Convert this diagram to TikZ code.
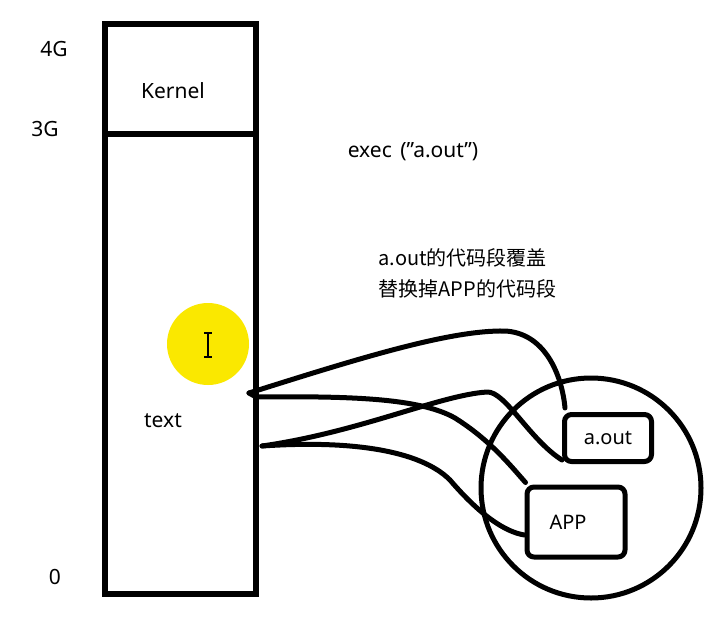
\documentclass[tikz,border=0pt]{standalone}
\usepackage{fontspec}
\setmainfont{Noto Sans}
\newfontfamily\cjk{Noto Sans CJK SC}
\usepackage{tikz}
\usetikzlibrary{calc}
\definecolor{hilite}{RGB}{250,232,0}

\begin{document}
\begin{tikzpicture}[x=1pt,y=-1pt,
  lbl/.style={font=\fontsize{21}{24}\selectfont},
  cjklbl/.style={font=\cjk\fontsize{20}{24}\selectfont},
  thick line/.style={line width=5pt,line cap=round,line join=round},
  procbox/.style={thick line,draw,rounded corners=7pt,inner sep=0pt,font=\fontsize{20}{24}\selectfont},
  wire/.style={thick line}]
\useasboundingbox (0,0) rectangle (720,622);
\fill[white] (0,0) rectangle (720,622);

\draw [line width=6pt]
(105,24) rectangle (256,594);
\draw [line width=6pt]
(105,134) -- (256,134);
\node[lbl] (g4) at (54,49) {4G};
\node[lbl] (g3) at (45,129) {3G};
\node[lbl] (g0) at (55,577) {0};
\node[lbl] (kernel) at (173,91) {Kernel};
\node[lbl] (text) at (163,421) {text};

\fill[hilite] (208,344) circle (41);
\draw[line width=1.2pt]
  (208,334) -- (208,356)
  (204,333) -- (212,333)
  (204,357) -- (212,357);

\node[lbl] (exec) at (413,152) {exec\hspace{3pt} (\symbol{34}a.out\symbol{34})};
\node[cjklbl,anchor=west] (note1) at (375,258) {a.out的代码段覆盖};
\node[cjklbl,anchor=west] (note2) at (375,289) {替换掉APP的代码段};

\draw [thick line]
  (591,488) circle (110);
\node[procbox,minimum width=87,minimum height=47] (aout) at (608,438) {a.out};
\node[procbox,minimum width=98,minimum height=70] (app) at (576,522) {\hspace*{-16pt}APP};

\coordinate (txtup) at (249,393);
\coordinate (txtlow) at (262,446);

\draw [wire]
  (txtup) .. controls (360,358) and (450,330) .. (505,331)
  .. controls (545,333) and (562,375) .. ([shift={(3,-4)}]aout.north west);
\draw [wire]
  (txtup) -- (256,397) .. controls (350,396) and (420,398) .. (455,418)
  .. controls (490,440) and (510,465) .. ([shift={(1,-2)}]app.north west);
\draw [wire]
  (txtlow) .. controls (360,432) and (440,395) .. (487,392)
  .. controls (505,391) and (530,440) .. ([shift={(0,-4)}]aout.south west);
\draw [wire]
  (txtlow) .. controls (350,440) and (420,450) .. (450,480)
  .. controls (480,515) and (505,532) .. ([yshift=-13pt]app.west);

\end{tikzpicture}
\end{document}
